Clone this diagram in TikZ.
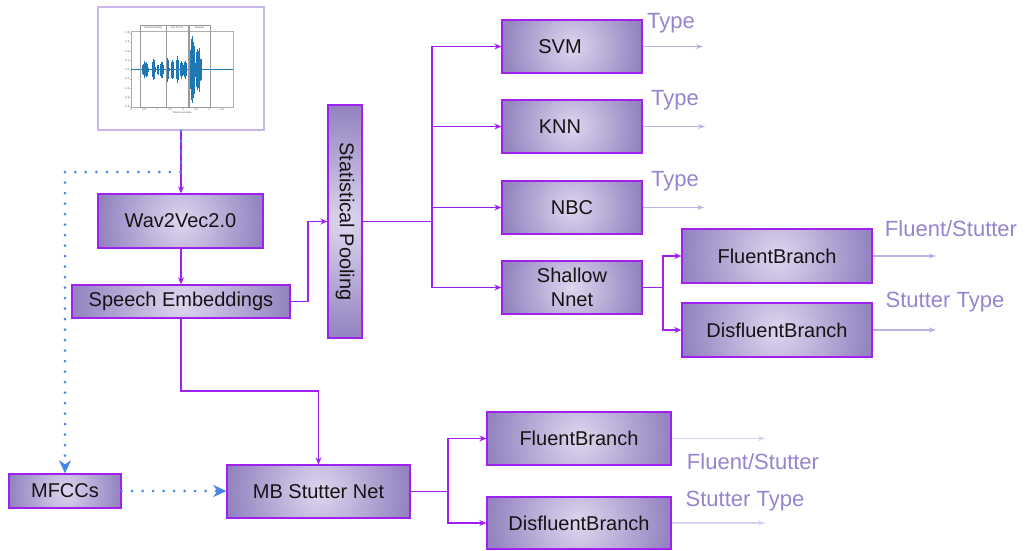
\documentclass[tikz,border=0pt]{standalone}
\usepackage{fontspec}
\setmainfont{Liberation Sans}
\usetikzlibrary{arrows.meta,calc}
\definecolor{bord}{RGB}{160,32,240}
\definecolor{boxin}{RGB}{222,214,238}
\definecolor{boxout}{RGB}{146,130,192}
\definecolor{txt}{RGB}{20,20,20}
\definecolor{lblc}{RGB}{150,132,205}
\definecolor{outa}{RGB}{190,175,228}
\definecolor{outb}{RGB}{218,208,240}
\definecolor{bluel}{RGB}{70,135,230}
\definecolor{imgb}{RGB}{200,182,236}
\definecolor{wavec}{RGB}{31,119,180}
\definecolor{axc}{RGB}{175,175,185}
\begin{document}
\begin{tikzpicture}[x=1pt,y=-1pt,
  pbox/.style={draw=bord, line width=1.3pt, fill=boxout, text=txt, font=\fontsize{20}{24}\selectfont, inner sep=0pt, align=center,
    path picture={\shade[inner color=boxin, outer color=boxout]
      let \p1=(path picture bounding box.east), \p2=(path picture bounding box.center), \p3=(path picture bounding box.north)
      in (\p2) circle ({max(abs(\x1-\x2),abs(\y3-\y2))});}},
  conn/.style={draw=bord, line width=1.3pt, -{Stealth[length=7pt,width=6pt]}},
  plain/.style={draw=bord, line width=1.3pt},
  bluedot/.style={draw=bluel, line width=3pt, line cap=round, dash pattern=on 0pt off 10.5pt, -{Stealth[length=13pt,width=12pt,inset=4pt]}},
  outarrA/.style={draw=outa, line width=1.3pt, -{Stealth[length=7pt,width=5pt]}},
  outarrB/.style={draw=outb, line width=1.3pt, -{Stealth[length=7pt,width=5pt]}},
  lbl/.style={text=lblc, font=\fontsize{22}{25}\selectfont, inner sep=0pt},
  wave/.style={draw=wavec, line width=0.55pt},
  tiny/.style={font=\fontsize{2.6}{3}\selectfont, text=black!70, inner sep=0pt}]
\useasboundingbox (0,0) rectangle (1025,551);

% ---------- waveform picture ----------
\node[draw=imgb, line width=1.5pt, fill=white, minimum width=166, minimum height=123, inner sep=0pt] (img) at (181,68.5) {};
\draw[axc, line width=0.4pt] (131,31) rectangle (233,107);
\draw[wavec, line width=0.5pt] (131,69.7) -- (233,69.7);
\foreach \a/\b/\h in {141.7/148.3/9, 151.7/155/11, 157/158.5/5, 160/163.3/8, 166/169/12, 171/173.7/10, 176/178.3/14, 180/182.3/9, 183.3/186.7/9, 189.5/195/34, 195/201.7/23}{
  \foreach \i in {0,1,...,24}{
    \pgfmathsetmacro\xx{\a+\i/24*(\b-\a)}
    \pgfmathsetmacro\yy{\h*(abs(sin(180*\i/24)))^0.6*(0.35+0.65*abs(sin(\i*157+\a*53)))}
    \draw[wave] (\xx,69.7-\yy) -- (\xx,69.7+\yy);
  }
}
\draw[gray!80, line width=0.6pt] (140,25) rectangle (166,107);
\draw[gray!80, line width=0.6pt] (166.5,25) rectangle (188,107);
\draw[gray!80, line width=0.6pt] (189,25) rectangle (210,107);
\node[tiny] (t1) at (153,28) {Communication};
\node[tiny] (t2) at (177,28) {D D D D D};
\node[tiny] (t3) at (199.5,28) {Islander};
\foreach \v [count=\k from 0] in {0.8,0.6,0.4,0.2,0.0,-0.2,-0.4,-0.6,-0.8}{
  \node[tiny, anchor=east] (yt\k) at (129.5,32.7+\k*9.25) {\v};
  \draw[axc, line width=0.3pt] (130,32.7+\k*9.25) -- (131,32.7+\k*9.25);
}
\foreach \v [count=\k from 0] in {0,0.5,1,1.5,2,2.5,3,3.5}{
  \node[tiny] (xt\k) at (131+\k*13,109.5) {\v};
}
\node[tiny] (xl) at (182,113) {Time in seconds};

% ---------- boxes ----------
\node[pbox, minimum width=165, minimum height=54] (wav) at (180.5,221) {Wav2Vec2.0};
\node[pbox, minimum width=218, minimum height=33] (emb) at (181,301.5) {Speech Embeddings};
\node[pbox, minimum width=34, minimum height=233] (pool) at (345,221.5) {\rotatebox{-90}{Statistical Pooling}};
\node[pbox, minimum width=140, minimum height=53] (svm) at (572,46.5) {SVM\hspace*{24pt}};
\node[pbox, minimum width=140, minimum height=53] (knn) at (572,126.5) {KNN\hspace*{24pt}};
\node[pbox, minimum width=140, minimum height=53] (nbc) at (572,207.5) {NBC};
\node[pbox, minimum width=140, minimum height=53] (snn) at (572,287.5) {Shallow\\Nnet};
\node[pbox, minimum width=190, minimum height=54] (fb1) at (777,256) {FluentBranch};
\node[pbox, minimum width=190, minimum height=54] (db1) at (777,330) {DisfluentBranch};
\node[pbox, minimum width=183, minimum height=53] (mb) at (318.5,491.5) {MB Stutter Net};
\node[pbox, minimum width=112, minimum height=34] (mfcc) at (65,491) {MFCCs};
\node[pbox, minimum width=184, minimum height=53] (fb2) at (579,438.5) {FluentBranch};
\node[pbox, minimum width=184, minimum height=52] (db2) at (579,523) {DisfluentBranch};

% ---------- labels ----------
\node[lbl] (l1) at (671,23) {Type};
\node[lbl] (l2) at (675,100) {Type};
\node[lbl] (l3) at (675,181) {Type};
\node[lbl] (l4) at (951,229) {Fluent/Stutter};
\node[lbl] (l5) at (945,302) {Stutter Type};
\node[lbl] (l6) at (753,462) {Fluent/Stutter};
\node[lbl] (l7) at (745,501) {Stutter Type};

% ---------- coordinates ----------
\coordinate (e1) at (308,301.5);
\coordinate (tr) at (432,221.5);
\coordinate (s2) at (663,287.5);
\coordinate (m2) at (448,491.5);
\coordinate (d1) at (181,391);
\coordinate (bturn) at (65,172);
\coordinate (o1) at (703,46.5);
\coordinate (o2) at (705,126.5);
\coordinate (o3) at (704,207.5);
\coordinate (o4) at (936,256);
\coordinate (o5) at (936,330);
\coordinate (o6) at (765,438.5);
\coordinate (o7) at (765,523);

% ---------- connectors ----------
\draw[conn] (img.south) -- (img.south |- wav.north);
\draw[bluedot, -] (img.south) |- (bturn);
\draw[bluedot] (bturn) -- (mfcc.north);
\draw[conn] (wav.south -| emb.north) -- (emb.north);
\draw[conn] (emb.east) -- (e1) |- (pool.west);
\draw[plain] (pool.east) -- (tr);
\draw[conn] (tr) |- (svm.west);
\draw[conn] (tr) |- (knn.west);
\draw[conn] (tr) |- (nbc.west);
\draw[conn] (tr) |- (snn.west);
\draw[plain] (snn.east) -- (s2);
\draw[conn] (s2) |- (fb1.west);
\draw[conn] (s2) |- (db1.west);
\draw[conn] (emb.south) -- (d1) -| (mb.north);
\draw[bluedot] (mfcc.east) -- (mfcc.east -| mb.west);
\draw[plain] (mb.east) -- (m2);
\draw[conn] (m2) |- (fb2.west);
\draw[conn] (m2) |- (db2.west);
\draw[outarrA] (svm.east) -- (o1);
\draw[outarrA] (knn.east) -- (o2);
\draw[outarrA] (nbc.east) -- (o3);
\draw[outarrA] (fb1.east) -- (o4);
\draw[outarrA] (db1.east) -- (o5);
\draw[outarrB] (fb2.east) -- (o6);
\draw[outarrB] (db2.east) -- (o7);
\end{tikzpicture}
\end{document}
